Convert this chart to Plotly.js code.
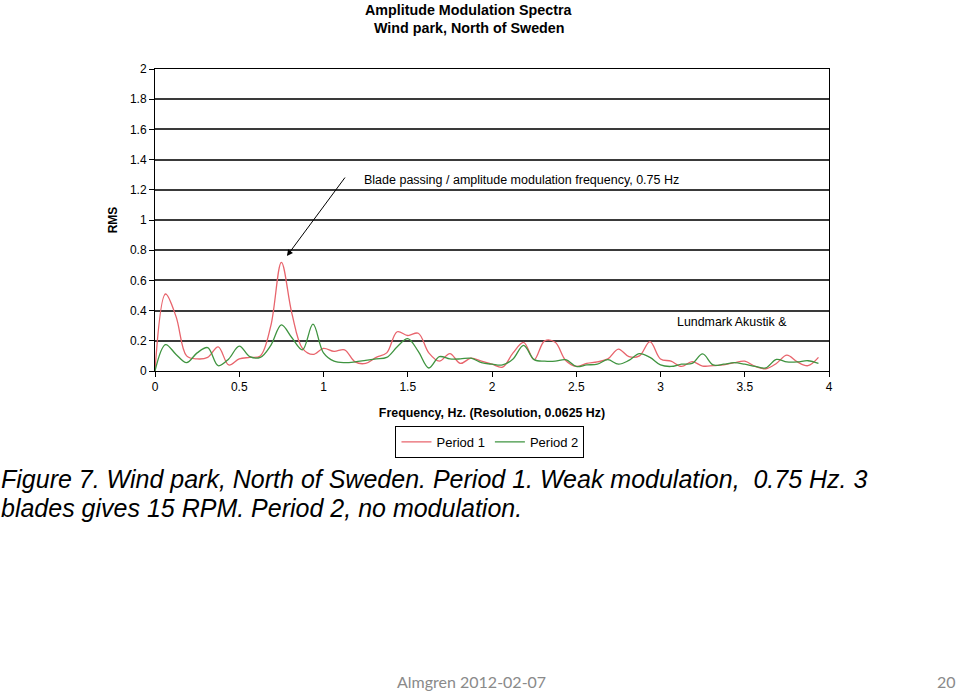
<!DOCTYPE html>
<html>
<head>
<meta charset="utf-8">
<script src="https://cdn.plot.ly/plotly-3.0.1.min.js"></script>
<style>
html,body{margin:0;padding:0;background:#fff;}
#chart{width:960px;height:691px;}
</style>
</head>
<body>
<div id="chart"></div>
<script>
// Frequency grid (Hz), resolution 0.0625 Hz
const freq = [0,0.0625,0.125,0.1875,0.25,0.3125,0.375,0.4375,0.5,0.5625,0.625,0.6875,0.75,0.8125,0.875,0.9375,
  1.0,1.0625,1.125,1.1875,1.25,1.3125,1.375,1.4375,1.5,1.5625,1.625,1.6875,1.75,1.8125,1.875,1.9375,
  2.0,2.0625,2.125,2.1875,2.25,2.3125,2.375,2.4375,2.5,2.5625,2.625,2.6875,2.75,2.8125,2.875,2.9375,
  3.0,3.0625,3.125,3.1875,3.25,3.3125,3.375,3.4375,3.5,3.5625,3.625,3.6875,3.75,3.8125,3.875,3.9375];

const period1 = [0,0.51,0.36,0.10,0.08,0.09,0.16,0.04,0.08,0.09,0.10,0.30,0.72,0.38,0.15,0.11,
  0.15,0.13,0.14,0.06,0.05,0.09,0.12,0.26,0.235,0.25,0.12,0.065,0.115,0.05,0.085,0.065,
  0.045,0.025,0.12,0.19,0.075,0.20,0.19,0.07,0.03,0.05,0.06,0.08,0.145,0.095,0.10,0.195,
  0.08,0.065,0.03,0.062,0.033,0.035,0.04,0.055,0.065,0.03,0.015,0.05,0.105,0.06,0.035,0.09];

const period2 = [0,0.175,0.11,0.055,0.12,0.155,0.035,0.08,0.165,0.095,0.09,0.17,0.305,0.22,0.14,0.31,
  0.12,0.065,0.055,0.06,0.07,0.08,0.09,0.16,0.215,0.13,0.02,0.095,0.08,0.08,0.085,0.055,
  0.045,0.04,0.08,0.17,0.075,0.065,0.065,0.075,0.03,0.04,0.045,0.075,0.045,0.07,0.115,0.09,
  0.04,0.03,0.045,0.05,0.113,0.04,0.045,0.055,0.045,0.03,0.02,0.077,0.06,0.06,0.068,0.05];

const seriesNames = ["Period 1","Period 2"];
const xTicks = [0,0.5,1,1.5,2,2.5,3,3.5,4];
const xTickText = ["0","0.5","1","1.5","2","2.5","3","3.5","4"];
const yTicks = [0,0.2,0.4,0.6,0.8,1,1.2,1.4,1.6,1.8,2];
const yTickText = ["0","0.2","0.4","0.6","0.8","1","1.2","1.4","1.6","1.8","2"];

const traces = [
  {x: freq, y: period1, name: seriesNames[0], type: "scatter", mode: "lines",
   line: {color: "#e8646c", width: 1.3, shape: "spline", smoothing: 1}},
  {x: freq, y: period2, name: seriesNames[1], type: "scatter", mode: "lines",
   line: {color: "#3f9440", width: 1.3, shape: "spline", smoothing: 1}}
];

const F = "Arial, 'Liberation Sans', sans-serif";
const CAP = "'Liberation Sans', Arial, sans-serif";
const layout = {
  width: 960, height: 691,
  margin: {l: 155, r: 131, t: 69, b: 320, pad: 0},
  paper_bgcolor: "#fff", plot_bgcolor: "#fff",
  showlegend: true,
  legend: {orientation: "h", x: 0.497, xanchor: "center", y: -0.182, yanchor: "top",
    bordercolor: "#000", borderwidth: 1, font: {family: F, size: 13, color: "#000"},
    bgcolor: "#fff", traceorder: "normal", itemwidth: 30},
  xaxis: {range: [0, 4], tickvals: xTicks, ticktext: xTickText, ticks: "outside", ticklen: 5,
    tickcolor: "#000", showline: true, linecolor: "#000", linewidth: 1, mirror: true,
    showgrid: false, zeroline: false, tickfont: {family: F, size: 12, color: "#000"},
    title: {text: "<b>Frequency, Hz. (Resolution, 0.0625 Hz)</b>", font: {family: F, size: 12.4, color: "#000"}, standoff: 14}},
  yaxis: {range: [0, 2], tickvals: yTicks, ticktext: yTickText, ticks: "outside", ticklen: 5,
    tickcolor: "#000", showline: true, linecolor: "#000", linewidth: 1, mirror: true,
    showgrid: true, gridcolor: "#3a3a3a", gridwidth: 2, zeroline: false,
    tickfont: {family: F, size: 12, color: "#000"},
    title: {text: "<b>RMS</b>", font: {family: F, size: 12, color: "#000"}, standoff: 9}},
  annotations: [
    {xref: "paper", yref: "paper", x: 0.466, y: 1.0 + 59/302, xanchor: "center", yanchor: "middle",
     text: "<b>Amplitude Modulation Spectra</b>", showarrow: false, font: {family: F, size: 14.3, color: "#000"}},
    {xref: "paper", yref: "paper", x: 0.466, y: 1.0 + 41/302, xanchor: "center", yanchor: "middle",
     text: "<b>Wind park, North of Sweden</b>", showarrow: false, font: {family: F, size: 14.3, color: "#000"}},
    {xref: "x", yref: "y", x: 0.783, y: 0.762, axref: "x", ayref: "y", ax: 1.134, ay: 1.291,
     text: "", showarrow: true, arrowhead: 2, arrowsize: 1.2, arrowwidth: 1, arrowcolor: "#000"},
    {xref: "x", yref: "y", x: 1.23, y: 1.268, xanchor: "left", yanchor: "middle",
     text: "Blade passing / amplitude modulation frequency, 0.75 Hz", showarrow: false,
     font: {family: F, size: 12.5, color: "#000"}},
    {xref: "x", yref: "y", x: 3.086, y: 0.322, xanchor: "left", yanchor: "middle",
     text: "Lundmark Akustik &", showarrow: false, font: {family: F, size: 12.4, color: "#000"}},
    {xref: "paper", yref: "paper", x: -156/674, y: -(479-371)/302, xanchor: "left", yanchor: "middle",
     text: "<i>Figure 7. Wind park, North of Sweden. Period 1. Weak modulation,  0.75 Hz. 3</i>", showarrow: false,
     font: {family: CAP, size: 25, color: "#000"}},
    {xref: "paper", yref: "paper", x: -156/674, y: -(508-371)/302, xanchor: "left", yanchor: "middle",
     text: "<i>blades gives 15 RPM. Period 2, no modulation.</i>", showarrow: false,
     font: {family: CAP, size: 25, color: "#000"}},
    {xref: "paper", yref: "paper", x: (471-155)/674, y: -(681-371)/302, xanchor: "center", yanchor: "middle",
     text: "Almgren 2012-02-07", showarrow: false, font: {family: "Lato, 'Open Sans', sans-serif", size: 16, color: "#8a8a8a"}},
    {xref: "paper", yref: "paper", x: (946-155)/674, y: -(681-371)/302, xanchor: "center", yanchor: "middle",
     text: "20", showarrow: false, font: {family: "Lato, 'Open Sans', sans-serif", size: 16, color: "#8a8a8a"}}
  ]
};

Plotly.newPlot("chart", traces, layout, {displayModeBar: false, staticPlot: true});
</script>
</body>
</html>
